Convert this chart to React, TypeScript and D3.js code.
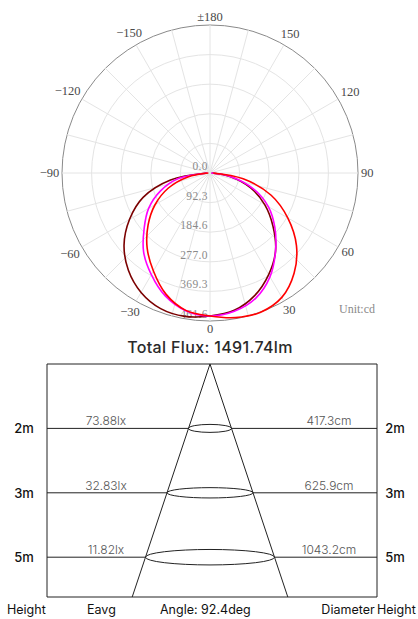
import React from "react";
import * as d3 from "d3";

// ---- polar (intensity) data ----
const curveAngles = [-90, -80, -70, -60, -50, -40, -30, -20, -10, 0, 10, 20, 30, 40, 50, 60, 70, 80, 90];
const seriesDarkRed = [10, 125, 222, 290, 350, 396, 430, 450, 454, 446, 435, 407, 366, 318, 256, 197, 134, 63, 5];
const seriesMagenta = [8, 100, 165, 221, 268, 322, 366, 408, 436, 446, 438, 416, 374, 318, 264, 210, 144, 66, 4];
const seriesRed = [5, 70, 139, 198, 252, 305, 353, 402, 435, 446, 458, 462, 448, 408, 352, 280, 203, 105, 10];
const seriesColors = ["#7b0000", "#ff00ff", "#ff0000"];

const ringTicks = [0, 92.3, 184.6, 277.0, 369.3, 461.6];
const ringTickLabels = ["0.0", "92.3", "184.6", "277.0", "369.3", "461.6"];
const angleTicks = [180, 150, 120, 90, 60, 30, 0, -30, -60, -90, -120, -150];
const angleTickLabels = ["±180", "150", "120", "90", "60", "30", "0", "−30", "−60", "−90", "−120", "−150"];
const unitLabel = "Unit:cd";
const totalFlux = "Total Flux: 1491.74lm";

// ---- illuminance diagram data ----
const heightLabels = ["2m", "3m", "5m"];
const eavgLabels = ["73.88lx", "32.83lx", "11.82lx"];
const diameterLabels = ["417.3cm", "625.9cm", "1043.2cm"];
const footerLabels = ["Height", "Eavg", "Angle: 92.4deg", "Diameter", "Height"];

export default function App() {
  const W = 418, H = 619;
  const cx = 210, cy = 173, R = 148;
  const rScale = d3.scaleLinear().domain([0, 461.6]).range([0, R]);
  const toRad = (deg: number) => (deg * Math.PI) / 180;
  const pt = (deg: number, r: number) => [cx + r * Math.sin(toRad(deg)), cy + r * Math.cos(toRad(deg))];

  const spokes = d3.range(0, 360, 15);
  const line = d3
    .lineRadial<number>()
    .angle((_, i) => Math.PI - toRad(curveAngles[i]))
    .radius((d) => rScale(d))
    .curve(d3.curveCatmullRom);
  const series = [seriesDarkRed, seriesMagenta, seriesRed];

  // bottom diagram geometry
  const left = 47, right = 377, top = 364, bottom = 597;
  const yRow = d3.scaleLinear().domain([0, 1]).range([top, top + 64.4]);
  const apexX = 210;
  const halfW = d3.scaleLinear().domain([top, bottom]).range([0, 77.8]);

  const serif = "'Liberation Serif', 'DejaVu Serif', serif";
  const sans = "Inter, 'Noto Sans', sans-serif";

  const footerX = [7, 87, 160, 348, 377];
  const footerAnchor = ["start", "start", "start", "middle", "start"];

  return (
    <svg width={W} height={H} style={{ position: "absolute", left: 0, top: 0, background: "#fff" }}>
      {/* grid */}
      {ringTicks.slice(1).map((v, i) => (
        <circle key={"r" + i} cx={cx} cy={cy} r={rScale(v)} fill="none"
          stroke={i === ringTicks.length - 2 ? "#8a8a8a" : "#e4e4e4"} strokeWidth={1} />
      ))}
      {spokes.map((a) => {
        const [x, y] = pt(a, R);
        return <line key={"s" + a} x1={cx} y1={cy} x2={x} y2={y} stroke="#e4e4e4" strokeWidth={1} />;
      })}
      {/* angle labels */}
      {angleTicks.map((a, i) => {
        const txt = angleTickLabels[i];
        const w = txt.length * 6.3, h = 10;
        const s = Math.sin(toRad(a)), c = Math.cos(toRad(a));
        const off = 151 + Math.abs(s) * w / 2 + Math.abs(c) * h / 2;
        const [x, y] = pt(a, off);
        return (
          <text key={"a" + a} x={x} y={y} textAnchor="middle" dominantBaseline="central"
            fontFamily={serif} fontSize={12.5} fill="#4a4a4a">{txt}</text>
        );
      })}
      {/* ring labels */}
      {ringTicks.map((v, i) => (
        <text key={"rl" + i} x={cx - 2} y={cy + rScale(v) - 3} textAnchor="end"
          fontFamily={serif} fontSize={11.5} fill="#8a8a8a" letterSpacing={0.4}>{ringTickLabels[i]}</text>
      ))}
      {/* curves */}
      <g transform={`translate(${cx},${cy})`}>
        {series.map((s, i) => (
          <path key={"c" + i} d={line(s) || ""} fill="none" stroke={seriesColors[i]} strokeWidth={1.6} />
        ))}
      </g>
      <text x={339} y={313} fontFamily={serif} fontSize={12} fill="#8a8a8a">{unitLabel}</text>
      <text x={210} y={353} textAnchor="middle" fontFamily={sans} fontSize={16} fontWeight={500}
        letterSpacing={0.35} fill="#2a2a2a">{totalFlux}</text>

      {/* illuminance diagram */}
      <g stroke="#222" strokeWidth={1} fill="none">
        <line x1={left} y1={top} x2={right} y2={top} />
        <line x1={left} y1={top} x2={left} y2={bottom} />
        <line x1={right} y1={top} x2={right} y2={bottom} />
        <line x1={left} y1={bottom} x2={right} y2={bottom} />
        <line x1={apexX} y1={top} x2={apexX - halfW(bottom)} y2={bottom} />
        <line x1={apexX} y1={top} x2={apexX + halfW(bottom)} y2={bottom} />
        {heightLabels.map((_, i) => {
          const y = yRow(i + 1);
          const rx = halfW(y);
          const ry = Math.max(4, rx * 0.12);
          return (
            <g key={"h" + i}>
              <line x1={left} y1={y} x2={apexX - rx} y2={y} />
              <line x1={apexX + rx} y1={y} x2={right} y2={y} />
              <ellipse cx={apexX} cy={y} rx={rx} ry={ry} />
            </g>
          );
        })}
      </g>
      {heightLabels.map((h, i) => {
        const y = yRow(i + 1);
        return (
          <g key={"hl" + i}>
            <text x={24} y={y} textAnchor="middle" dominantBaseline="central" fontFamily={sans} fontSize={13} fontWeight={500} fill="#111">{h}</text>
            <text x={395} y={y} textAnchor="middle" dominantBaseline="central" fontFamily={sans} fontSize={13} fontWeight={500} fill="#111">{h}</text>
            <text x={106} y={y - 3} textAnchor="middle" fontFamily={sans} fontSize={12} fontWeight={300} fill="#555">{eavgLabels[i]}</text>
            <text x={329} y={y - 3} textAnchor="middle" fontFamily={sans} fontSize={12} fontWeight={300} fill="#555">{diameterLabels[i]}</text>
          </g>
        );
      })}
      {footerLabels.map((t, i) => (
        <text key={"f" + i} x={footerX[i]} y={613.5} textAnchor={footerAnchor[i] as any}
          fontFamily={sans} fontSize={12.5} fill="#111">{t}</text>
      ))}
    </svg>
  );
}
